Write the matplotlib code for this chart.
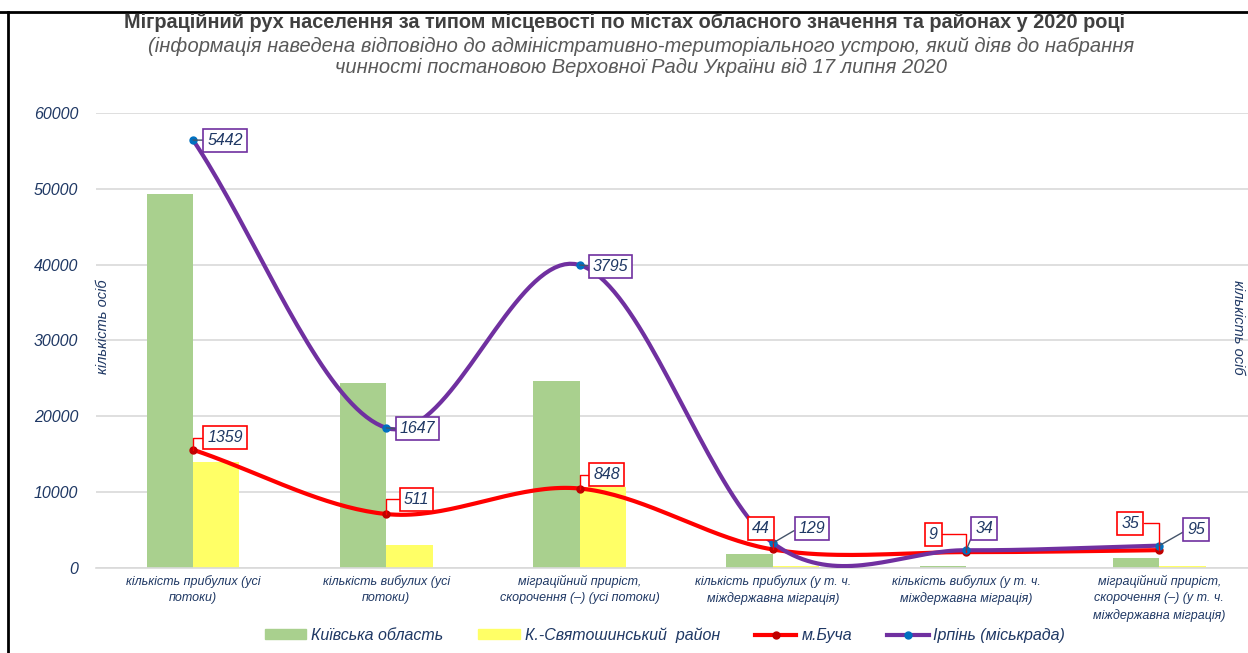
import numpy as np
import matplotlib
matplotlib.use("Agg")
import matplotlib.pyplot as plt
from matplotlib.lines import Line2D
from matplotlib.patches import Patch

# дані
categories = [
    "кількість прибулих (усі\nпотоки)",
    "кількість вибулих (усі\nпотоки)",
    "міграційний приріст,\nскорочення (–) (усі потоки)",
    "кількість прибулих (у т. ч.\nміждержавна міграція)",
    "кількість вибулих (у т. ч.\nміждержавна міграція)",
    "міграційний приріст,\nскорочення (–) (у т. ч.\nміждержавна міграція)",
]
kyiv_obl = [49300, 24450, 24600, 1850, 300, 1350]
k_svyat = [14000, 3030, 10650, 300, 40, 300]
bucha = [1359, 511, 848, 44, 9, 35]
irpin = [5442, 1647, 3795, 129, 34, 95]

NAVY = "#1F3864"
GREEN = "#A9D08E"
YELLOW = "#FFFF66"
RED = "#FF0000"
PURPLE = "#7030A0"

plt.rcParams["font.family"] = ["Liberation Sans", "DejaVu Sans"]


def smooth(vals, n=40):
    # згладжена лінія як в Excel (Catmull-Rom)
    p = np.asarray(vals, dtype=float)
    ext = np.concatenate([[2 * p[0] - p[1]], p, [2 * p[-1] - p[-2]]])
    xs, ys = [], []
    t = np.linspace(0, 1, n)
    for i in range(len(p) - 1):
        p0, p1, p2, p3 = ext[i], ext[i + 1], ext[i + 2], ext[i + 3]
        m1 = (p2 - p0) / 2
        m2 = (p3 - p1) / 2
        h00 = 2 * t**3 - 3 * t**2 + 1
        h10 = t**3 - 2 * t**2 + t
        h01 = -2 * t**3 + 3 * t**2
        h11 = t**3 - t**2
        xs.append(i + t)
        ys.append(h00 * p1 + h10 * m1 + h01 * p2 + h11 * m2)
    return np.concatenate(xs), np.concatenate(ys)


fig = plt.figure(figsize=(12.48, 6.53), dpi=100)
ax = fig.add_axes([0.0773, 0.1302, 0.9291, 0.6968])
ax2 = ax.twinx()

x = np.arange(len(categories))
w = 0.24
ax.bar(x - w / 2, kyiv_obl, w, color=GREEN, zorder=2)
ax.bar(x + w / 2, k_svyat, w, color=YELLOW, zorder=2)

ax.set_xlim(-0.5, len(categories) - 0.5)
ax.set_ylim(0, 60000)
ax.set_yticks(range(0, 60001, 10000))
ax.grid(axis="y", color="#D9D9D9", linewidth=1.2, zorder=0)
ax.set_axisbelow(True)
for s in ["top", "right", "left"]:
    ax.spines[s].set_visible(False)
ax.spines["bottom"].set_color("#D9D9D9")
ax.spines["bottom"].set_linewidth(1.2)
ax.tick_params(axis="y", length=0, pad=13, labelsize=11.5, labelcolor=NAVY)
for lab in ax.get_yticklabels():
    lab.set_fontstyle("italic")
ax.set_xticks(x)
ax.set_xticklabels(categories, fontsize=9, style="italic", color=NAVY,
                   linespacing=1.45)
ax.tick_params(axis="x", length=0, pad=5)

ax2.set_ylim(-200, 5800)
ax2.set_yticks([])
for s in ax2.spines.values():
    s.set_visible(False)

xb, yb = smooth(bucha)
ax2.plot(xb, yb, color=RED, lw=3, zorder=3, solid_capstyle="round")
ax2.plot(x, bucha, "o", color="#C00000", ms=5, zorder=4)
xi, yi = smooth(irpin)
ax2.plot(xi, yi, color=PURPLE, lw=3, zorder=5, solid_capstyle="round")
ax2.plot(x, irpin, "o", color="#0070C0", ms=5, zorder=6)

# підписи даних (зсув у пікселях)
bucha_off = [(32, 12), (30, 15), (27, 14), (-12, 21), (-33, 18), (-29, 27)]
irpin_off = [(32, 0), (31, -1), (31, -1), (39, 15), (18, 22), (37, 16)]


def label(val, xi_, off, edge, lead, conn):
    side = 0 if off[0] > 0 else 1
    ax2.annotate(str(val), (xi_, val), xytext=off, textcoords="offset pixels",
                 ha="center", va="center", fontsize=11.5, style="italic",
                 color=NAVY, zorder=10,
                 bbox=dict(boxstyle="square,pad=0.25", fc="white", ec=edge, lw=1.2),
                 arrowprops=dict(arrowstyle="-", color=lead, lw=1, shrinkA=0,
                                 shrinkB=0, relpos=(side, 0.5),
                                 connectionstyle=conn))


for i, v in enumerate(bucha):
    label(v, i, bucha_off[i], RED, RED, "angle,angleA=0,angleB=90,rad=0")
for i, v in enumerate(irpin):
    label(v, i, irpin_off[i], PURPLE, "#44546A", "arc3,rad=0")

# назви осей
fig.text(103 / 1248, 1 - 327 / 653, "кількість осіб", rotation=90, ha="center",
         va="center", fontsize=10.5, style="italic", color=NAVY)
fig.text(1238 / 1248, 1 - 327 / 653, "кількість осіб", rotation=270, ha="center",
         va="center", fontsize=10.5, style="italic", color=NAVY)

# заголовок
fig.text(0.50, 1 - 22 / 653,
         "Міграційний рух населення за типом місцевості по містах обласного значення та районах у 2020 році",
         ha="center", va="center", fontsize=14.3, weight="bold", color="#404040")
fig.text(0.514, 1 - 57 / 653,
         "(інформація наведена відповідно до адміністративно-територіального устрою, який діяв до набрання\n"
         "чинності постановою Верховної Ради України від 17 липня 2020",
         ha="center", va="center", fontsize=14.5, style="italic", color="#595959",
         linespacing=1.15)

# рамка
fig.add_artist(Line2D([0, 1], [1 - 12 / 653] * 2, color="black", lw=2))
fig.add_artist(Line2D([8 / 1248] * 2, [0, 1 - 12 / 653], color="black", lw=2))

handles = [
    Patch(color=GREEN, label="Київська область"),
    Patch(color=YELLOW, label="К.-Святошинський  район"),
    Line2D([], [], color=RED, lw=3, marker="o", mfc="#C00000", mec="#C00000",
           ms=5, label="м.Буча"),
    Line2D([], [], color=PURPLE, lw=3, marker="o", mfc="#0070C0", mec="#0070C0",
           ms=5, label="Ірпінь (міськрада)"),
]
leg = fig.legend(handles=handles, loc="center", bbox_to_anchor=(665 / 1248, 1 - 635 / 653),
                 ncol=4, frameon=False, handlelength=2.6, handleheight=0.55,
                 columnspacing=2.2, handletextpad=0.3,
                 prop=dict(size=11.5, style="italic"))
for t in leg.get_texts():
    t.set_color(NAVY)

fig.savefig("out.png", dpi=100)
